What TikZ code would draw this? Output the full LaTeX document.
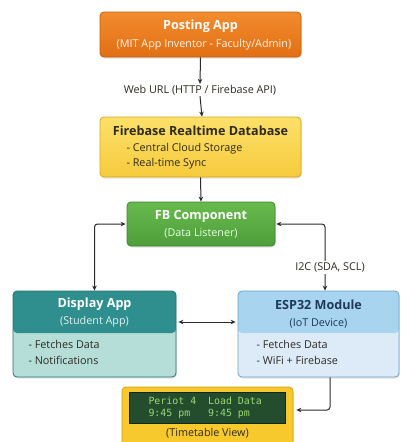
\documentclass[tikz,border=0pt]{standalone}
\usepackage{fontspec}
\setmainfont{Open Sans}
\newfontfamily\lcdfont{DejaVu Sans Mono}
\usetikzlibrary{arrows.meta,shadows}
\definecolor{orgtop}{HTML}{F28C2E}
\definecolor{orgbot}{HTML}{E26F14}
\definecolor{orgdraw}{HTML}{C45E10}
\definecolor{yeltop}{HTML}{FCE06A}
\definecolor{yelbot}{HTML}{F6CB3C}
\definecolor{yeldraw}{HTML}{D8A820}
\definecolor{grntop}{HTML}{68BA4E}
\definecolor{grnbot}{HTML}{4E9E3A}
\definecolor{grndraw}{HTML}{3C832C}
\definecolor{tealhead}{HTML}{2F8F8E}
\definecolor{tealbody}{HTML}{B4DED7}
\definecolor{tealdraw}{HTML}{287573}
\definecolor{bluehead}{HTML}{A8D4F0}
\definecolor{bluebody}{HTML}{DDEBF8}
\definecolor{bluedraw}{HTML}{6FA4CA}
\definecolor{ttfill}{HTML}{F7C92C}
\definecolor{ttdraw}{HTML}{D69E12}
\definecolor{lcdfill}{HTML}{234D2C}
\definecolor{lcddraw}{HTML}{10281A}
\definecolor{lcdtext}{HTML}{9BD874}
\definecolor{darktext}{HTML}{2E2A20}
\definecolor{navytext}{HTML}{1E3A58}
\definecolor{linecol}{HTML}{2B2B2B}
\tikzset{
  box/.style={rounded corners=4pt, line width=0.8pt, inner sep=0pt,
    drop shadow={opacity=0.22, shadow xshift=0.8pt, shadow yshift=-1.5pt}},
  ttl/.style={font=\fontsize{12.6}{15}\selectfont\bfseries},
  sub/.style={font=\fontsize{10.8}{13}\selectfont},
  bul/.style={font=\fontsize{10.8}{13}\selectfont, anchor=west, text=darktext},
  lcdtxt/.style={font=\lcdfont\fontsize{9.9}{12}\selectfont, text=lcdtext, anchor=west},
  conn/.style={draw=linecol, line width=1pt, -{Stealth[length=5pt,width=4.5pt]}},
  conn2/.style={draw=linecol, line width=1pt, {Stealth[length=5pt,width=4.5pt]}-{Stealth[length=5pt,width=4.5pt]}, rounded corners=3pt},
}
\begin{document}
\begin{tikzpicture}[x=1pt,y=-1pt]
\useasboundingbox[fill=white] (0,0) rectangle (404,442);

% Posting App
\node[box, draw=orgdraw, top color=orgtop, bottom color=orgbot, minimum width=201, minimum height=45] (post) at (200.5,34.5) {};
\node[ttl, text=white] (postt) at (200.5,26) {Posting App};
\node[sub, text=white!92!orange] (posts) at (204,44.5) {(MIT App Inventor - Faculty/Admin)};

% Web URL label
\node[sub, text=darktext, inner sep=1pt] (web) at (200,90) {Web URL (HTTP / Firebase API)};

% Firebase
\node[box, draw=yeldraw, top color=yeltop, bottom color=yelbot, minimum width=201, minimum height=60] (fire) at (200.5,147) {};
\node[ttl, text=darktext] (firet) at (200.5,131) {Firebase Realtime Database};
\node[bul] (fire1) at (123,148.5) {- Central Cloud Storage};
\node[bul] (fire2) at (123,164) {- Real-time Sync};

% FB Component
\node[box, draw=grndraw, top color=grntop, bottom color=grnbot, minimum width=148, minimum height=44] (fb) at (201,224) {};
\node[ttl, text=white] (fbt) at (201,216) {FB Component};
\node[sub, text=white!90!green] (fbs) at (201,233) {(Data Listener)};

% Display App
\node[box, draw=tealdraw, fill=tealbody, minimum width=163, minimum height=86,
  path picture={\fill[tealhead] (path picture bounding box.north west) rectangle ([yshift=-42pt]path picture bounding box.north east);}] (disp) at (94.5,334) {};
\node[ttl, text=white] (dispt) at (94.5,304) {Display App};
\node[sub, text=white!88!teal] (disps) at (94.5,322) {(Student App)};
\node[bul] (disp1) at (25,344) {- Fetches Data};
\node[bul] (disp2) at (25,360) {- Notifications};

% ESP32
\node[box, draw=bluedraw, fill=bluebody, minimum width=161, minimum height=86,
  path picture={\fill[bluehead] (path picture bounding box.north west) rectangle ([yshift=-42pt]path picture bounding box.north east);}] (esp) at (318.5,334) {};
\node[ttl, text=navytext] (espt) at (318.5,305) {ESP32 Module};
\node[sub, text=navytext] (esps) at (318.5,323) {(IoT Device)};
\node[bul] (esp1) at (253,344) {- Fetches Data};
\node[bul] (esp2) at (253,360) {- WiFi + Firebase};

% Timetable
\node[box, draw=ttdraw, fill=ttfill, minimum width=171, minimum height=60] (tt) at (207.5,417) {};
\node[draw=lcddraw, line width=1pt, fill=lcdfill, minimum width=156, minimum height=31, inner sep=0pt] (lcd) at (207,407.5) {};
\node[lcdtxt] (lcd1) at (145,401) {Periot~4~~Load~Data};
\node[lcdtxt] (lcd2) at (145,414) {9:45~pm~~~9:45~pm};
\node[sub, text=darktext] (tts) at (207.5,433.5) {(Timetable View)};

% Connectors
\draw[conn] (post.south) -- (web.north);
\draw[conn] (web.south) -- ([xshift=1.5pt]fire.north);
\draw[conn] (fire.south) -- (fb.north);
\draw[conn2] ([xshift=-1pt]fb.west) -| (disp.north);
\draw[conn2] ([xshift=1pt]fb.east) -| ([xshift=6.5pt]esp.north);
\node[sub, text=darktext, fill=white, inner sep=1.5pt] (i2c) at (330,267.5) {I2C (SDA, SCL)};
\draw[conn2] ([xshift=2pt,yshift=12pt]disp.east) -- ([xshift=-2pt,yshift=12pt]esp.west);
\draw[conn, rounded corners=3pt] ([xshift=11.5pt]esp.south) |- ([xshift=3pt,yshift=7pt]tt.east);
\end{tikzpicture}
\end{document}
